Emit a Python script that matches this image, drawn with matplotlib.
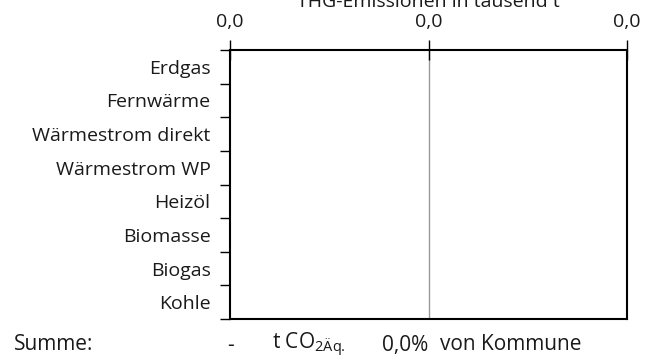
import matplotlib
matplotlib.use("Agg")
import matplotlib.pyplot as plt

categories = ["Erdgas", "Fernwärme", "Wärmestrom direkt", "Wärmestrom WP",
              "Heizöl", "Biomasse", "Biogas", "Kohle"]
values = [0, 0, 0, 0, 0, 0, 0, 0]
x_ticks = [0, 0.5, 1]
x_tick_labels = ["0,0", "0,0", "0,0"]
title = "THG-Emissionen in tausend t"
summary_label = "Summe:"
summary_value = "-"
summary_share = "0,0%"

plt.rcParams['font.family'] = ['Open Sans', 'DejaVu Sans']
FS = 14
TC = "#1a1a1a"

fig = plt.figure(figsize=(6.56, 3.6), dpi=100)
ax = fig.add_axes([230/656, 1-319/360, (627-230)/656, (319-50)/360])

n = len(categories)
ypos = list(range(n))
ax.barh(ypos, values, height=0.6, color="#4f81bd")
ax.set_ylim(n - 0.5, -0.5)
ax.set_xlim(0, 1)

ax.set_yticks(ypos)
ax.set_yticklabels(categories, fontsize=FS, color=TC)
ax.tick_params(axis='y', which='major', length=0, pad=14)
ax.set_yticks([i - 0.5 for i in range(n + 1)], minor=True)
ax.tick_params(axis='y', which='minor', length=7, width=1, direction='out', color='black')

ax.xaxis.tick_top()
ax.set_xticks(x_ticks)
ax.set_xticklabels(x_tick_labels, fontsize=FS, color=TC)
ax.tick_params(axis='x', length=15, width=1, direction='inout', pad=6)
ticks = ax.xaxis.get_major_ticks()
ticks[1].tick2line.set_color("#999999")
ticks[2].tick2line.set_color("#666666")
ax.axvline(x_ticks[1], color="#999999", lw=1, zorder=0)

for s in ax.spines.values():
    s.set_linewidth(1.5)
    s.set_color("black")

fig.text(428/656, 1-7/360, title, ha='center', va='baseline', fontsize=FS, color=TC)

SFS = 15
ty = 1 - 345/360
fig.text(14/656, ty, summary_label, ha='left', va='center', fontsize=SFS, color=TC)
fig.text(230/656, ty, summary_value, ha='center', va='center', fontsize=SFS, color=TC)
fig.text(272/656, ty, r"t CO$_{\mathregular{2Äq.}}$", ha='left', va='center', fontsize=SFS, color=TC)
fig.text(428/656, ty, summary_share, ha='right', va='center', fontsize=SFS, color=TC)
fig.text(440/656, ty, "von Kommune", ha='left', va='center', fontsize=SFS, color=TC)

fig.savefig("out.png", dpi=100)
